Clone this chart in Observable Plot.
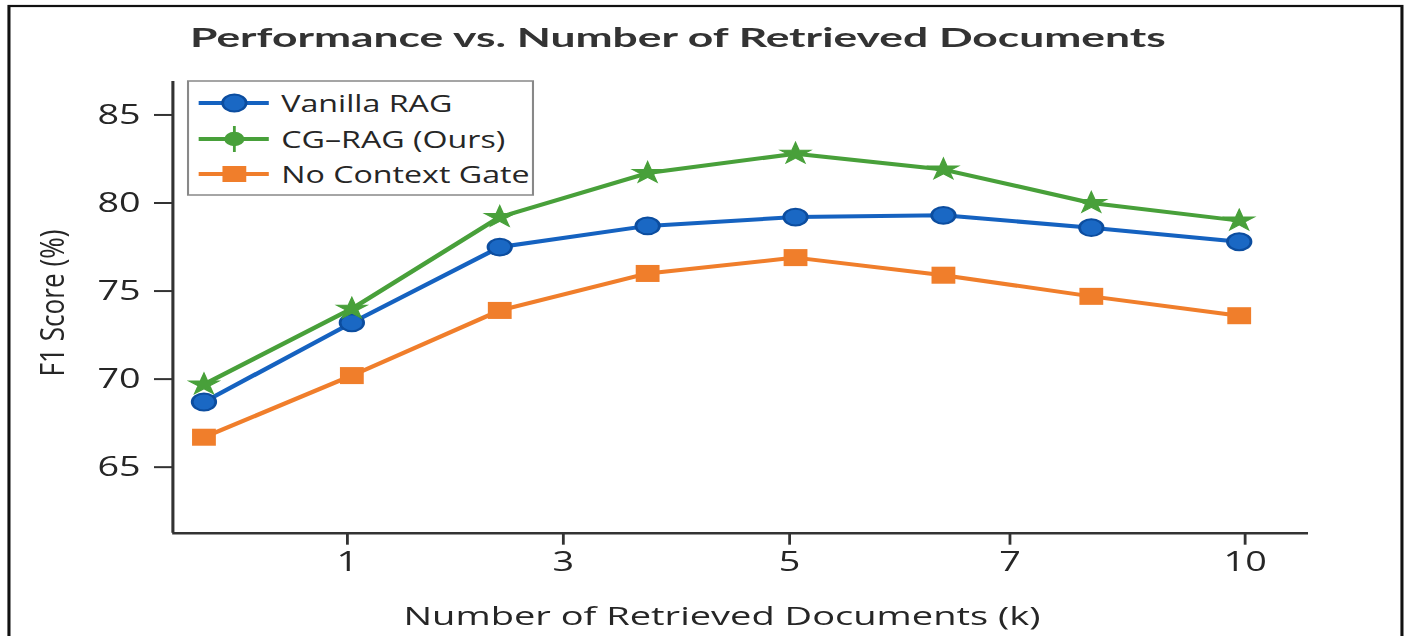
<!DOCTYPE html>
<html>
<head>
<meta charset="utf-8">
<script src="https://cdn.jsdelivr.net/npm/d3@7"></script>
<script src="https://cdn.jsdelivr.net/npm/@observablehq/plot@0.6"></script>
<style>
  html, body { margin: 0; padding: 0; background: #fff; overflow: hidden; }
  #wrap { position: relative; width: 1407px; height: 636px; overflow: hidden; background: #fff; }
  #chart { position: absolute; left: 0; top: 0; transform: scaleX(1.4); transform-origin: 0 0; }
</style>
</head>
<body>
<div id="wrap"><div id="chart"></div></div>
<script>
// ---- data ----
const seriesNames = ["Vanilla RAG", "CG–RAG (Ours)", "No Context Gate"];
const seriesColors = ["#1562c0", "#48a03a", "#f07e2b"];
const pointIndex = [0, 1, 2, 3, 4, 5, 6, 7];
const vanillaRAG    = [68.7, 73.2, 77.5, 78.7, 79.2, 79.3, 78.6, 77.8];
const cgRAG         = [69.7, 74.0, 79.2, 81.7, 82.8, 81.9, 80.0, 79.0];
const noContextGate = [66.7, 70.2, 73.9, 76.0, 76.9, 75.9, 74.7, 73.6];
const xTickPositions = [0.97, 2.43, 3.96, 5.45, 7.04];
const xTickLabels = ["1", "3", "5", "7", "10"];
const yTicks = [65, 70, 75, 80, 85];
const xDomain = [-0.21, 7.47];
const yDomain = [61.25, 86.9];
const titleText = "Performance vs. Number of Retrieved Documents";
const xLabelText = "Number of Retrieved Documents (k)";
const yLabelText = "F1 Score (%)";

// ---- layout ----
const STRETCH = 1.4;
const W = 1407 / STRETCH;
const H = 636;
const FONT = "'Open Sans', 'Noto Sans', sans-serif";
const TEXT = "#262626";

const seriesValues = [vanillaRAG, cgRAG, noContextGate];
const rows = [];
seriesNames.forEach((s, k) => pointIndex.forEach((i, j) => rows.push({i, v: seriesValues[k][j], s})));
const tickLabelMap = new Map(xTickPositions.map((p, j) => [p, xTickLabels[j]]));

const plot = Plot.plot({
  width: W,
  height: H,
  marginLeft: 123,
  marginRight: W - 934.3,
  marginTop: 81,
  marginBottom: 103.3,
  style: {fontFamily: FONT, color: "#333", background: "transparent", overflow: "visible"},
  x: {domain: xDomain},
  y: {domain: yDomain},
  color: {domain: seriesNames, range: seriesColors},
  marks: [
    Plot.axisY({ticks: yTicks, tickSize: 13, tickPadding: 10, fontSize: 27, label: null, strokeWidth: 2, fill: TEXT}),
    Plot.axisX({ticks: xTickPositions, tickFormat: d => tickLabelMap.get(d), tickSize: 12, tickPadding: 7, fontSize: 27, label: null, strokeWidth: 2, fill: TEXT}),
    Plot.ruleX([xDomain[0]], {stroke: "#333", strokeWidth: 2.2}),
    Plot.ruleY([yDomain[0]], {stroke: "#333", strokeWidth: 2.6}),
    Plot.line(rows, {x: "i", y: "v", z: "s", stroke: "s", strokeWidth: 4, strokeLinejoin: "round"}),
    Plot.dot(rows.filter(d => d.s === seriesNames[0]), {x: "i", y: "v", symbol: "circle", r: 8.4, fill: "#1a68c4", stroke: "#0c4d9f", strokeWidth: 2}),
    Plot.dot(rows.filter(d => d.s === seriesNames[1]), {x: "i", y: "v", symbol: "star", r: 6.8, fill: "#48a03a", stroke: "#48a03a", strokeWidth: 1}),
    Plot.dot(rows.filter(d => d.s === seriesNames[2]), {x: "i", y: "v", symbol: "square", r: 9.6, fill: "#f07e2b"})
  ]
});

const svg = d3.select(plot);

// border
svg.append("rect")
  .attr("x", 6.4).attr("y", 6).attr("width", 995).attr("height", 700)
  .attr("fill", "none").attr("stroke", "#111").attr("stroke-width", 2.2);

// title
svg.append("text")
  .attr("x", 135.7).attr("y", 47)
  .attr("text-anchor", "start")
  .attr("font-family", "Lato, 'Open Sans', sans-serif")
  .attr("font-weight", 700).attr("font-size", 26.5)
  .attr("fill", "#333")
  .attr("textLength", 697).attr("lengthAdjust", "spacingAndGlyphs")
  .text(titleText);

// x label
svg.append("text")
  .attr("x", 515.7).attr("y", 625)
  .attr("text-anchor", "middle")
  .attr("font-family", FONT).attr("font-size", 25)
  .attr("fill", TEXT)
  .attr("textLength", 455).attr("lengthAdjust", "spacingAndGlyphs")
  .text(xLabelText);

// y label
svg.append("text")
  .attr("transform", "translate(37,303) rotate(-90)")
  .attr("text-anchor", "middle").attr("dominant-baseline", "central")
  .attr("font-family", FONT).attr("font-size", 23)
  .attr("fill", TEXT)
  .attr("textLength", 147).attr("lengthAdjust", "spacingAndGlyphs")
  .text(yLabelText);

// legend
const lg = svg.append("g").attr("text-anchor", "start");
lg.append("rect")
  .attr("x", 134.3).attr("y", 81).attr("width", 246.4).attr("height", 114)
  .attr("fill", "#fff").attr("stroke", "#888").attr("stroke-width", 1.5);
const rowY = [103, 139, 174];
seriesNames.forEach((name, k) => {
  const y = rowY[k];
  const c = seriesColors[k];
  lg.append("line").attr("x1", 141.9).attr("x2", 192).attr("y1", y).attr("y2", y)
    .attr("stroke", c).attr("stroke-width", 4);
  if (k === 0) {
    lg.append("circle").attr("cx", 167.4).attr("cy", y).attr("r", 8.4)
      .attr("fill", "#1a68c4").attr("stroke", "#0c4d9f").attr("stroke-width", 2);
  } else if (k === 1) {
    lg.append("line").attr("x1", 167.4).attr("x2", 167.4).attr("y1", y - 13).attr("y2", y + 13)
      .attr("stroke", c).attr("stroke-width", 2);
    lg.append("circle").attr("cx", 167.4).attr("cy", y).attr("r", 7.2).attr("fill", c);
  } else {
    lg.append("rect").attr("x", 167.4 - 8.5).attr("y", y - 8).attr("width", 17).attr("height", 16).attr("fill", c);
  }
  lg.append("text").attr("x", 200.9).attr("y", y)
    .attr("text-anchor", "start")
    .attr("dominant-baseline", "central")
    .attr("font-family", FONT).attr("font-size", 23).attr("fill", TEXT)
    .text(name);
});

document.getElementById("chart").appendChild(plot);
</script>
</body>
</html>
